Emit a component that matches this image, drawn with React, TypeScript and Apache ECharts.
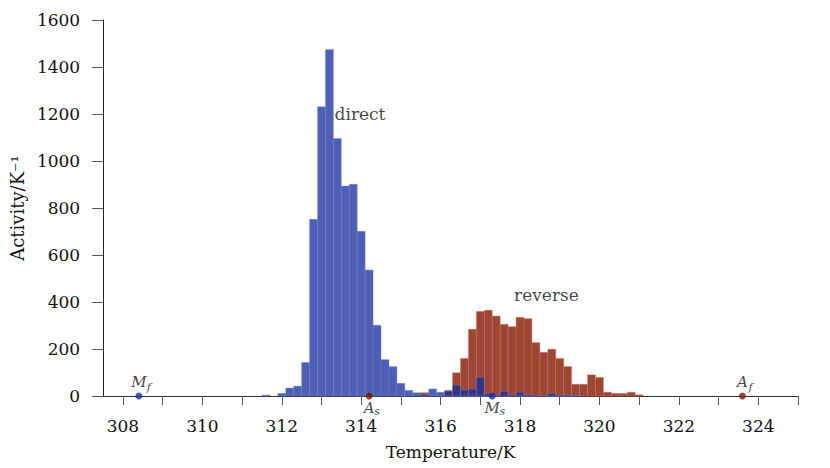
import React, { useEffect, useRef } from 'react';
import * as echarts from 'echarts';

// Histogram bin centres (K), bin width 0.2 K
const binCenters = [
  311.6, 311.8, 312.0, 312.2, 312.4, 312.6, 312.8, 313.0, 313.2, 313.4,
  313.6, 313.8, 314.0, 314.2, 314.4, 314.6, 314.8, 315.0, 315.2, 315.4,
  315.6, 315.8, 316.0, 316.2, 316.4, 316.6, 316.8, 317.0, 317.2, 317.4,
  317.6, 317.8, 318.0, 318.2, 318.4, 318.6, 318.8, 319.0, 319.2, 319.4,
  319.6, 319.8, 320.0, 320.2, 320.4, 320.6, 320.8, 321.0,
];
const BIN_WIDTH = 0.2;

// Activity / K^-1
const directValues = [
  4, 0, 11, 34, 42, 143, 752, 1231, 1475, 1096,
  894, 901, 701, 536, 301, 155, 125, 54, 24, 14,
  6, 30, 16, 21, 46, 26, 29, 80, 10, 3,
  20, 4, 16, 5, 3, 2, 11, 4, 4, 3,
  0, 0, 0, 0, 0, 0, 0, 0,
];
const reverseValues = [
  0, 0, 0, 0, 0, 0, 0, 0, 0, 0,
  0, 0, 0, 0, 0, 0, 0, 0, 0, 0,
  14, 0, 0, 24, 99, 160, 284, 360, 365, 340,
  305, 295, 335, 329, 227, 186, 199, 160, 125, 50,
  50, 90, 79, 16, 11, 11, 16, 5,
];

const xTickValues = [308, 309, 310, 311, 312, 313, 314, 315, 316, 317, 318, 319, 320, 321, 322, 323, 324, 325];
const xLabelValues = [308, 310, 312, 314, 316, 318, 320, 322, 324];
const yTickValues = [0, 200, 400, 600, 800, 1000, 1200, 1400, 1600];

// Transformation temperatures
const markerT = [308.4, 314.2, 317.3, 323.6];
const markerMain = ['M', 'A', 'M', 'A'];
const markerSub = ['f', 's', 's', 'f'];
const markerKind = ['direct', 'reverse', 'direct', 'reverse'];
const markerLabelAbove = [true, false, false, true];

// Series annotations
const annotationText = ['direct', 'reverse'];
const annotationT = [313.33, 317.85];
const annotationV = [1200, 430];

const FONT = 'DejaVu Serif, serif';
const FS = 17;
const BLUE_FILL = 'rgba(22,46,158,0.76)';
const BLUE_EDGE = 'rgba(120,140,210,0.6)';
const RED_FILL = '#9d4634';
const RED_EDGE = 'rgba(200,120,100,0.7)';
const DOT_BLUE = '#1d2e9c';
const DOT_RED = '#7a1608';

function histSeries(name: string, values: number[], fill: string, stroke: string, z: number) {
  return {
    type: 'custom',
    name,
    z,
    clip: false,
    data: binCenters.map((c, i) => [c, values[i]]),
    encode: { x: 0, y: 1 },
    renderItem: (_params: any, api: any) => {
      const v = api.value(1);
      if (!v) return { type: 'group', children: [] };
      const c = api.value(0);
      const a = api.coord([c - BIN_WIDTH / 2, v]);
      const b = api.coord([c + BIN_WIDTH / 2, 0]);
      return {
        type: 'rect',
        shape: { x: a[0], y: a[1], width: b[0] - a[0], height: b[1] - a[1] },
        style: { fill, stroke, lineWidth: 0.6 },
      };
    },
  };
}

export default function App() {
  const ref = useRef<HTMLDivElement>(null);
  useEffect(() => {
    if (!ref.current) return;
    const chart = echarts.init(ref.current, null, { renderer: 'svg' });
    const option: any = {
      animation: false,
      textStyle: { fontFamily: FONT },
      grid: { left: 87, right: 32, top: 20, bottom: 72 },
      xAxis: {
        type: 'value',
        min: 307.25,
        max: 325,
        axisLine: { show: true, onZero: false, lineStyle: { color: '#333', width: 1 } },
        axisTick: { show: true, customValues: xTickValues, length: 9, lineStyle: { color: '#555' } },
        axisLabel: { customValues: xLabelValues, margin: 21, fontFamily: FONT, fontSize: FS, color: '#111' },
        splitLine: { show: false },
        name: 'Temperature/K',
        nameLocation: 'middle',
        nameGap: 47,
        nameTextStyle: { fontFamily: FONT, fontSize: FS, color: '#111', padding: [0, 0, 0, 10] },
      },
      yAxis: {
        type: 'value',
        min: 0,
        max: 1600,
        interval: 200,
        offset: -10,
        axisLine: { show: true, lineStyle: { color: '#222', width: 1 } },
        axisTick: { show: true, length: 11, lineStyle: { color: '#555' } },
        axisLabel: {
          margin: 23,
          fontFamily: FONT,
          fontSize: FS,
          color: '#111',
          formatter: (v: number) => (yTickValues.includes(v) ? String(v) : ''),
        },
        splitLine: { show: false },
        name: 'Activity/K⁻¹',
        nameLocation: 'middle',
        nameGap: 70,
        nameTextStyle: { fontFamily: FONT, fontSize: 18, color: '#111' },
      },
      series: [
        histSeries('reverse', reverseValues, RED_FILL, RED_EDGE, 2),
        histSeries('direct', directValues, BLUE_FILL, BLUE_EDGE, 3),
        {
          type: 'scatter',
          z: 10,
          clip: false,
          symbolSize: 7,
          data: markerT.map((t, i) => ({
            value: [t, 0],
            itemStyle: { color: markerKind[i] === 'direct' ? DOT_BLUE : DOT_RED },
            label: { offset: [0, markerLabelAbove[i] ? -14 : 12] },
          })),
          label: {
            show: true,
            position: 'inside',
            formatter: (p: any) => markerMain[p.dataIndex],
            fontFamily: FONT,
            fontStyle: 'italic',
            fontSize: 15,
            color: '#111',
          },
        },
        {
          type: 'scatter',
          z: 10,
          clip: false,
          symbolSize: 0,
          data: markerT.map((t, i) => ({
            value: [t, 0],
            label: {
              offset: [markerMain[i] === 'M' ? 10 : 8, markerLabelAbove[i] ? -9 : 15],
            },
          })),
          label: {
            show: true,
            position: 'inside',
            formatter: (p: any) => markerSub[p.dataIndex],
            fontFamily: FONT,
            fontStyle: 'italic',
            fontSize: 11,
            color: '#111',
          },
        },
        {
          type: 'scatter',
          z: 11,
          clip: false,
          symbolSize: 0,
          data: annotationText.map((n, i) => ({ name: n, value: [annotationT[i], annotationV[i]] })),
          label: {
            show: true,
            position: 'right',
            distance: 0,
            formatter: '{b}',
            fontFamily: FONT,
            fontSize: FS,
            color: '#111',
          },
        },
      ],
    };
    chart.setOption(option);
    return () => chart.dispose();
  }, []);
  return (
    <div
      ref={ref}
      style={{ position: 'absolute', left: 0, top: 0, width: 830, height: 468, background: '#fff' }}
    />
  );
}
